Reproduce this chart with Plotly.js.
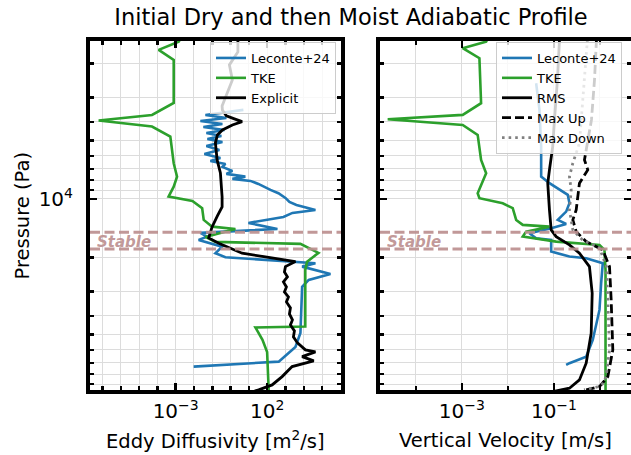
<!DOCTYPE html>
<html>
<head>
<meta charset="utf-8">
<script src="https://cdn.plot.ly/plotly-3.0.1.min.js"></script>
<style>
  html, body { margin: 0; padding: 0; overflow: hidden; background: #fff; }
  #chart { width: 640px; height: 455px; }
</style>
</head>
<body>
<div id="chart"></div>
<script>
// ---- Eddy diffusivity profiles (left panel) ----
const kzLecontePressure = [3477, 3690, 3824, 3963, 4107, 4256, 4410, 4569, 4735, 4906, 5084, 5331, 5589, 5861, 6147, 6370, 6601, 6839, 7173, 7431, 7675, 7885, 8075, 8369, 8988, 9346, 9881, 10363, 10738, 11396, 11808, 12383, 13298, 14280, 14570, 14973, 15645, 16270, 17618, 19050, 19974, 21050, 21450, 22335, 24360, 26150, 28420, 49060, 57940, 68980, 73180];
const kzLeconte = [5.0, 0.042, 0.59, 0.0224, 0.356, 0.0326, 0.458, 0.0476, 0.314, 0.054, 0.356, 0.0476, 0.244, 0.037, 0.277, 0.0787, 0.52, 0.356, 1.25, 0.59, 6.4, 1.25, 12.1, 33, 150, 409, 988, 1633, 3945, 43000, 2384, 768, 9.4, 361, 6.4, 0.0224, 0.052, 0.018, 0.343, 0.148, 0.52, 2805, 43000, 8070, 284000, 18500, 8070, 6520, 3475, 425, 0.0096];

const kzTkePressure = [1500, 1546, 1706, 1921, 3199, 3690, 3945, 4236, 4775, 6545, 7676, 8644, 9731, 10240, 11168, 12832, 13898, 14280, 15700, 16650, 17050, 18980, 21050, 23230, 45500, 45960, 53300, 61490, 96500, 100000];
const kzTke = [1.8e-3, 1.46e-3, 1.18e-4, 7.8e-4, 7.8e-4, 5.1e-5, 6.2e-8, 5.1e-5, 5.1e-4, 7.8e-4, 1.19e-3, 7.8e-4, 4.1e-4, 8.2e-3, 2.8e-2, 3.4e-2, 9.8e-2, 1.83, 4.2e-2, 0.148, 6500, 63000, 15000, 12000, 12000, 22.6, 55, 98.8, 120, 120];

const kzExplicitPressure = [1497, 1747, 2038, 2436, 2910, 3317, 3477, 3734, 3869, 3996, 4155, 4410, 4678, 5145, 6295, 7345, 9765, 10996, 12236, 13298, 13940, 15886, 16920, 19050, 20215, 21050, 22335, 23780, 25235, 26780, 28420, 30160, 32010, 33960, 36470, 39160, 42050, 44620, 47900, 51430, 55250, 60030, 61490, 65020, 68410, 73180, 82410, 90950, 96500, 98800];
const kzExplicit = [2.5, 2.5, 0.86, 1.25, 0.59, 0.343, 0.356, 0.59, 1.61, 4.25, 1.25, 0.356, 0.19, 0.148, 0.183, 0.277, 0.343, 0.343, 0.19, 0.119, 0.0975, 0.0636, 0.224, 4.25, 185, 3475, 988, 871, 1270, 768, 1120, 871, 1440, 1120, 1853, 1633, 2384, 1853, 3065, 2700, 4470, 12200, 43000, 8070, 34700, 2295, 652, 185, 34, 15];

// ---- Vertical velocity profiles (right panel) ----
const wLecontePressure = [2533, 3477, 5376, 7675, 8300, 9537, 10524, 11630, 12833, 13455, 14160, 15028, 15940, 16270, 18690, 19830, 20215, 21450, 27200, 37340, 53330, 65020, 70300, 71740];
const wLeconte = [0.041, 0.0484, 0.0527, 0.0527, 0.0798, 0.2, 0.217, 0.184, 0.121, 0.184, 0.087, 0.0293, 0.041, 0.087, 0.087, 0.217, 0.501, 1.15, 1.06, 0.975, 0.697, 0.501, 0.217, 0.184];

const wTkePressure = [1497, 1546, 1672, 1883, 3211, 3690, 3884, 4155, 4678, 6295, 7369, 9346, 9918, 10524, 11166, 12833, 13614, 13898, 14746, 15645, 16600, 17265, 18320, 23230, 96500, 100000];
const wTke = [3.6e-3, 3.36e-3, 1.04e-3, 2.4e-3, 2.61e-3, 1.04e-3, 2.44e-5, 1.04e-3, 2.2e-3, 2.61e-3, 3.36e-3, 2.2e-3, 2.4e-3, 7.7e-3, 1.27e-2, 1.51e-2, 2.1e-2, 0.0798, 0.0249, 0.021, 0.1117, 0.975, 1.25, 1.32, 1.32, 1.32];

const wRmsPressure = [1497, 2436, 3916, 5376, 7087, 8300, 11396, 14450, 15645, 17265, 19050, 22335, 30630, 49240, 70300, 85700, 94580, 98470];
const wRms = [0.132, 0.119, 0.1025, 0.094, 0.0798, 0.0733, 0.0798, 0.087, 0.1117, 0.217, 0.358, 0.59, 0.677, 0.644, 0.501, 0.358, 0.217, 0.094];

const wMaxUpPressure = [1497, 2436, 3916, 5460, 6295, 7087, 8300, 11396, 12833, 14746, 16600, 18320, 22335, 33160, 60030, 82410, 89130, 92800, 96500];
const wMaxUp = [0.84, 0.76, 0.653, 0.509, 0.46, 0.543, 0.358, 0.304, 0.257, 0.304, 0.501, 1.15, 1.61, 1.75, 1.9, 1.48, 1.15, 0.975, 0.501];

const wMaxDownPressure = [1497, 2436, 3916, 5164, 6546, 7675, 8988, 11396, 14450, 16270, 17890, 22335, 33160, 60030, 82410, 89880, 93000, 96500];
const wMaxDown = [0.535, 0.46, 0.396, 0.358, 0.257, 0.217, 0.237, 0.217, 0.257, 0.417, 0.975, 1.38, 1.48, 1.61, 1.36, 1.13, 0.9, 0.45];

// Stable layer bounds (Pa)
const stableTop = 14850;
const stableBottom = 18100;

// ---- Ticks ----
const pressureMajor = [10000];
const pressureMajorText = ['10<sup>4</sup>'];
const pressureMinor = [2000, 3000, 4000, 5000, 6000, 7000, 8000, 9000, 20000, 30000, 40000, 50000, 60000, 70000, 80000, 90000];
const kzMajor = [1e-3, 1e2];
const kzMajorText = ['10<sup>\u22123</sup>', '10<sup>2</sup>'];
const kzMinor = [1e-7, 1e-6, 1e-5, 1e-4, 1e-2, 1e-1, 1, 10, 1e3, 1e4, 1e5, 1e6];
const wMajor = [1e-3, 1e-1];
const wMajorText = ['10<sup>\u22123</sup>', '10<sup>\u22121</sup>'];
const wMinor = [1e-5, 1e-4, 1e-2, 1];

const BLUE = '#1f77b4', GREEN = '#2ca02c', BLACK = '#000000', GRAY = '#808080';
const STABLE = 'rgba(188,143,143,0.92)';
const FONT = 'DejaVu Sans, Verdana, sans-serif';
const W = 640, H = 455;

function line(x, y, name, color, xa, ya, legend, dash, width) {
  return {
    type: 'scatter', mode: 'lines', x: x, y: y, name: name,
    xaxis: xa, yaxis: ya, legend: legend,
    line: { color: color, width: width || 2.6, dash: dash || 'solid' }
  };
}

const traces = [
  line(kzLeconte, kzLecontePressure, 'Leconte+24', BLUE, 'x', 'y', 'legend'),
  line(kzTke, kzTkePressure, 'TKE', GREEN, 'x', 'y', 'legend'),
  line(kzExplicit, kzExplicitPressure, 'Explicit', BLACK, 'x', 'y', 'legend', null, 2.8),
  line(wLeconte, wLecontePressure, 'Leconte+24', BLUE, 'x2', 'y2', 'legend2'),
  line(wTke, wTkePressure, 'TKE', GREEN, 'x2', 'y2', 'legend2'),
  line(wRms, wRmsPressure, 'RMS', BLACK, 'x2', 'y2', 'legend2', null, 2.8),
  line(wMaxUp, wMaxUpPressure, 'Max Up', BLACK, 'x2', 'y2', 'legend2', '9px,4px', 2.8),
  line(wMaxDown, wMaxDownPressure, 'Max Down', GRAY, 'x2', 'y2', 'legend2', '2.6px,4px', 2.8)
];

const GRID = '#dcdcdc';
function frameAxis(extra) {
  return Object.assign({
    showline: true, linewidth: 4, linecolor: '#000', mirror: 'allticks',
    ticks: 'inside', ticklen: 7, tickwidth: 2.4, tickcolor: '#000',
    showgrid: true, gridcolor: GRID, gridwidth: 1, zeroline: false,
    tickfont: { family: FONT, size: 20, color: '#000' },
    tickmode: 'array', fixedrange: true
  }, extra);
}
function minor(vals) {
  return { tickmode: 'array', tickvals: vals, ticks: 'inside', ticklen: 4, tickwidth: 2.4,
           tickcolor: '#000', showgrid: true, gridcolor: GRID, gridwidth: 1 };
}

const yDomain = [1 - 390 / H, 1 - 41 / H];
const yRange = [4.985, 3.186];

const layout = {
  width: W, height: H,
  margin: { l: 0, r: 0, t: 0, b: 0 },
  paper_bgcolor: '#fff', plot_bgcolor: '#fff',
  showlegend: true,
  font: { family: FONT, color: '#000' },
  title: {
    text: 'Initial Dry and then Moist Adiabatic Profile',
    font: { family: FONT, size: 22.5, color: '#000' },
    xref: 'container', yref: 'container', x: 351 / W, y: 1 - 17 / H,
    xanchor: 'center', yanchor: 'middle'
  },
  xaxis: frameAxis({ type: 'log', domain: [90 / W, 341 / W], range: [-7.68, 6.03], anchor: 'y',
    tickvals: kzMajor, ticktext: kzMajorText, minor: minor(kzMinor) }),
  yaxis: frameAxis({ type: 'log', domain: yDomain, range: yRange, anchor: 'x',
    tickvals: pressureMajor, ticktext: pressureMajorText, minor: minor(pressureMinor),
    ticklabelstandoff: 9 }),
  xaxis2: frameAxis({ type: 'log', domain: [380 / W, 631 / W], range: [-4.78, 0.674], anchor: 'y2',
    tickvals: wMajor, ticktext: wMajorText, minor: minor(wMinor) }),
  yaxis2: frameAxis({ type: 'log', domain: yDomain, range: yRange, anchor: 'x2', matches: 'y',
    tickvals: pressureMajor, ticktext: pressureMajorText, showticklabels: false, minor: minor(pressureMinor) }),
  legend: {
    x: 336 / W, y: 1 - 42 / H, xanchor: 'right', yanchor: 'top',
    bgcolor: 'rgba(255,255,255,0.8)', bordercolor: '#cccccc', borderwidth: 1,
    font: { family: FONT, size: 13, color: '#000' }
  },
  legend2: {
    x: 622 / W, y: 1 - 42 / H, xanchor: 'right', yanchor: 'top',
    bgcolor: 'rgba(255,255,255,0.8)', bordercolor: '#cccccc', borderwidth: 1,
    font: { family: FONT, size: 13, color: '#000' }
  },
  shapes: [],
  annotations: [
    { text: 'Pressure (Pa)', xref: 'paper', yref: 'paper', x: 22 / W, y: 1 - 215.5 / H,
      textangle: -90, showarrow: false, xanchor: 'center', yanchor: 'middle',
      font: { family: FONT, size: 19.5, color: '#000' } },
    { text: 'Eddy Diffusivity [m<sup>2</sup>/s]', xref: 'paper', yref: 'paper', x: 215.5 / W, y: 1 - 440 / H,
      showarrow: false, xanchor: 'center', yanchor: 'middle',
      font: { family: FONT, size: 19.5, color: '#000' } },
    { text: 'Vertical Velocity [m/s]', xref: 'paper', yref: 'paper', x: 505.5 / W, y: 1 - 440 / H,
      showarrow: false, xanchor: 'center', yanchor: 'middle',
      font: { family: FONT, size: 19.5, color: '#000' } }
  ]
};

// Stable layer: dashed bounds and label in both panels
const stableLabelLog = (Math.log10(stableTop) + Math.log10(stableBottom)) / 2;
[['x', 'y'], ['x2', 'y2']].forEach(function (ax) {
  [stableTop, stableBottom].forEach(function (p) {
    layout.shapes.push({
      type: 'line', xref: ax[0] + ' domain', yref: ax[1], x0: 0, x1: 1, y0: p, y1: p,
      line: { color: STABLE, width: 3, dash: '10px,4.5px' }, layer: 'above'
    });
  });
  layout.annotations.push({
    text: '<b><i>Stable</i></b>', xref: ax[0] + ' domain', yref: ax[1],
    x: 0.018, y: stableLabelLog, yshift: -1.5, xanchor: 'left', yanchor: 'middle', showarrow: false,
    font: { family: FONT, size: 15, color: STABLE }
  });
});

Plotly.newPlot('chart', traces, layout, { staticPlot: true, displayModeBar: false });
</script>
</body>
</html>
